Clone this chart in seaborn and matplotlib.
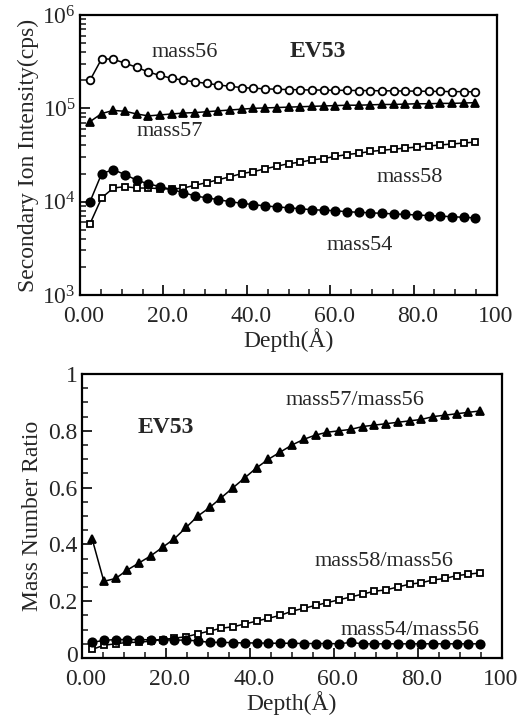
import numpy as np
import pandas as pd
import matplotlib
matplotlib.use("Agg")
import matplotlib.pyplot as plt
import seaborn as sns
from matplotlib.transforms import ScaledTranslation
from matplotlib.ticker import MultipleLocator, LogLocator, NullFormatter, FixedLocator

# ---------------- data ----------------
depth = [2.4, 5.2, 8.0, 10.8, 13.6, 16.4, 19.2, 22.0, 24.8, 27.6, 30.4, 33.2,
         36.0, 38.8, 41.6, 44.4, 47.2, 50.0, 52.8, 55.6, 58.4, 61.2, 64.0, 66.8,
         69.6, 72.4, 75.2, 78.0, 80.8, 83.6, 86.4, 89.2, 92.0, 94.8]

mass56 = [2.0e5, 3.4e5, 3.35e5, 3.05e5, 2.75e5, 2.45e5, 2.25e5, 2.1e5, 2.0e5,
          1.92e5, 1.85e5, 1.78e5, 1.72e5, 1.67e5, 1.64e5, 1.62e5, 1.6e5, 1.59e5,
          1.58e5, 1.57e5, 1.57e5, 1.56e5, 1.56e5, 1.55e5, 1.55e5, 1.54e5, 1.54e5,
          1.53e5, 1.53e5, 1.52e5, 1.52e5, 1.51e5, 1.51e5, 1.5e5]
mass57 = [7.2e4, 8.8e4, 9.5e4, 9.3e4, 8.7e4, 8.3e4, 8.5e4, 8.7e4, 8.9e4, 9.0e4,
          9.2e4, 9.4e4, 9.6e4, 9.8e4, 1.0e5, 1.01e5, 1.02e5, 1.03e5, 1.04e5,
          1.05e5, 1.06e5, 1.07e5, 1.08e5, 1.08e5, 1.09e5, 1.1e5, 1.1e5, 1.11e5,
          1.12e5, 1.12e5, 1.13e5, 1.13e5, 1.14e5, 1.15e5]
mass58 = [5.8e3, 1.1e4, 1.4e4, 1.45e4, 1.4e4, 1.4e4, 1.38e4, 1.36e4, 1.4e4,
          1.5e4, 1.6e4, 1.72e4, 1.85e4, 2.0e4, 2.1e4, 2.25e4, 2.4e4, 2.55e4,
          2.65e4, 2.8e4, 2.9e4, 3.05e4, 3.2e4, 3.3e4, 3.45e4, 3.55e4, 3.65e4,
          3.75e4, 3.85e4, 3.95e4, 4.05e4, 4.15e4, 4.25e4, 4.35e4]
mass54 = [1.0e4, 2.0e4, 2.2e4, 1.95e4, 1.7e4, 1.55e4, 1.45e4, 1.35e4, 1.25e4,
          1.15e4, 1.1e4, 1.05e4, 1.0e4, 9.6e3, 9.3e3, 9.0e3, 8.8e3, 8.6e3,
          8.4e3, 8.2e3, 8.1e3, 8.0e3, 7.8e3, 7.7e3, 7.6e3, 7.5e3, 7.4e3, 7.3e3,
          7.2e3, 7.1e3, 7.0e3, 6.9e3, 6.8e3, 6.7e3]

ratio57 = [0.42, 0.27, 0.28, 0.31, 0.335, 0.36, 0.39, 0.42, 0.46, 0.50, 0.53,
           0.565, 0.60, 0.635, 0.67, 0.70, 0.725, 0.75, 0.77, 0.785, 0.795, 0.80,
           0.805, 0.815, 0.82, 0.825, 0.83, 0.835, 0.84, 0.85, 0.855, 0.86,
           0.865, 0.87]
ratio58 = [0.03, 0.045, 0.05, 0.055, 0.055, 0.06, 0.065, 0.07, 0.075, 0.085,
           0.095, 0.105, 0.11, 0.12, 0.13, 0.14, 0.15, 0.165, 0.175, 0.185,
           0.195, 0.205, 0.215, 0.225, 0.235, 0.24, 0.25, 0.26, 0.265, 0.275,
           0.28, 0.29, 0.295, 0.30]
ratio54 = [0.055, 0.062, 0.065, 0.065, 0.065, 0.064, 0.064, 0.063, 0.063, 0.06,
           0.055, 0.055, 0.054, 0.053, 0.053, 0.052, 0.052, 0.052, 0.051, 0.051,
           0.051, 0.05, 0.055, 0.05, 0.05, 0.05, 0.05, 0.05, 0.05, 0.05, 0.05,
           0.05, 0.05, 0.05]

xtick_vals = [0, 20, 40, 60, 80, 100]
xtick_labels = ["0.00", "20.0", "40.0", "60.0", "80.0", "100"]
ytop_vals = [1e3, 1e4, 1e5, 1e6]
ytop_labels = [r"$10^{3}$", r"$10^{4}$", r"$10^{5}$", r"$10^{6}$"]
ybot_vals = [0, 0.2, 0.4, 0.6, 0.8, 1.0]
ybot_labels = ["0", "0.2", "0.4", "0.6", "0.8", "1"]

# ---------------- style ----------------
sns.set_style("ticks")
plt.rcParams["font.family"] = ["Liberation Serif", "DejaVu Serif"]
plt.rcParams["mathtext.fontset"] = "custom"
plt.rcParams["mathtext.rm"] = "Liberation Serif"
plt.rcParams["mathtext.it"] = "Liberation Serif:italic"
plt.rcParams["axes.linewidth"] = 1.6

fig = plt.figure(figsize=(5.21, 7.25), dpi=100)
ax1 = fig.add_axes([80 / 521, 1 - 295 / 725, 417 / 521, 280 / 725])
ax2 = fig.add_axes([82 / 521, 1 - 658 / 725, 420 / 521, 284 / 725])

FS = 17


def draw(ax, y, marker, face, ms):
    df = pd.DataFrame({"x": depth, "y": y})
    sns.lineplot(data=df, x="x", y="y", ax=ax, color="black", lw=1.1,
                 marker=marker, markersize=ms, markerfacecolor=face,
                 markeredgecolor="black", markeredgewidth=1.3, sort=False)


# top panel
draw(ax1, mass56, "o", "white", 5.5)
draw(ax1, mass57, "^", "black", 6)
draw(ax1, mass58, "s", "white", 5)
draw(ax1, mass54, "o", "black", 6)
ax1.set_yscale("log")
ax1.set_ylim(1e3, 1e6)
ax1.set_xlim(0, 100)
ax1.yaxis.set_major_locator(FixedLocator(ytop_vals))
ax1.set_yticklabels(ytop_labels)
ax1.yaxis.set_minor_locator(LogLocator(base=10, subs=np.arange(2, 10)))
ax1.yaxis.set_minor_formatter(NullFormatter())
ax1.set_ylabel("Secondary Ion Intensity(cps)", fontsize=FS, labelpad=2)

# bottom panel
draw(ax2, ratio57, "^", "black", 6)
draw(ax2, ratio58, "s", "white", 5)
draw(ax2, ratio54, "o", "black", 6)
ax2.set_ylim(0, 1)
ax2.set_xlim(0, 100)
ax2.set_yticks(ybot_vals)
ax2.set_yticklabels(ybot_labels)
ax2.yaxis.set_minor_locator(MultipleLocator(0.05))
ax2.set_ylabel("Mass Number Ratio", fontsize=FS, labelpad=4)

for ax in (ax1, ax2):
    ax.set_xticks(xtick_vals)
    ax.set_xticklabels(xtick_labels)
    ax.xaxis.set_minor_locator(MultipleLocator(5))
    ax.set_xlabel("Depth(Å)", fontsize=FS, labelpad=1)
    ax.tick_params(axis="both", which="major", direction="in", length=7,
                   width=1.4, labelsize=FS, top=False, right=False)
    ax.tick_params(axis="both", which="minor", direction="in", length=4,
                   width=1.2, top=False, right=False)
    ax.tick_params(axis="x", which="major", pad=8)
    ax.tick_params(axis="y", which="major", pad=3)
    for s in ax.spines.values():
        s.set_visible(True)
        s.set_color("black")
    labs = ax.get_xticklabels()
    for i, lab in enumerate(labs):
        dx = 4 if i < len(labs) - 1 else -1
        lab.set_transform(lab.get_transform() + ScaledTranslation(dx / 100, 0, fig.dpi_scale_trans))

# lift the bottom "0" y label a little so it clears "0.00"
ylab0 = ax2.get_yticklabels()[0]
ylab0.set_transform(ylab0.get_transform() + ScaledTranslation(0, 4 / 100, fig.dpi_scale_trans))

# annotations (data coordinates)
ax1.text(25, 4.0e5, "mass56", fontsize=16, ha="center", va="center")
ax1.text(57, 4.1e5, "EV53", fontsize=17, fontweight="bold", ha="center", va="center")
ax1.text(21.5, 5.6e4, "mass57", fontsize=16, ha="center", va="center")
ax1.text(79, 1.8e4, "mass58", fontsize=16, ha="center", va="center")
ax1.text(67, 3.4e3, "mass54", fontsize=16, ha="center", va="center")

ax2.text(20, 0.81, "EV53", fontsize=17, fontweight="bold", ha="center", va="center")
ax2.text(65, 0.905, "mass57/mass56", fontsize=16, ha="center", va="center")
ax2.text(72, 0.34, "mass58/mass56", fontsize=16, ha="center", va="center")
ax2.text(78, 0.097, "mass54/mass56", fontsize=16, ha="center", va="center")

fig.savefig("out.png", dpi=100)
